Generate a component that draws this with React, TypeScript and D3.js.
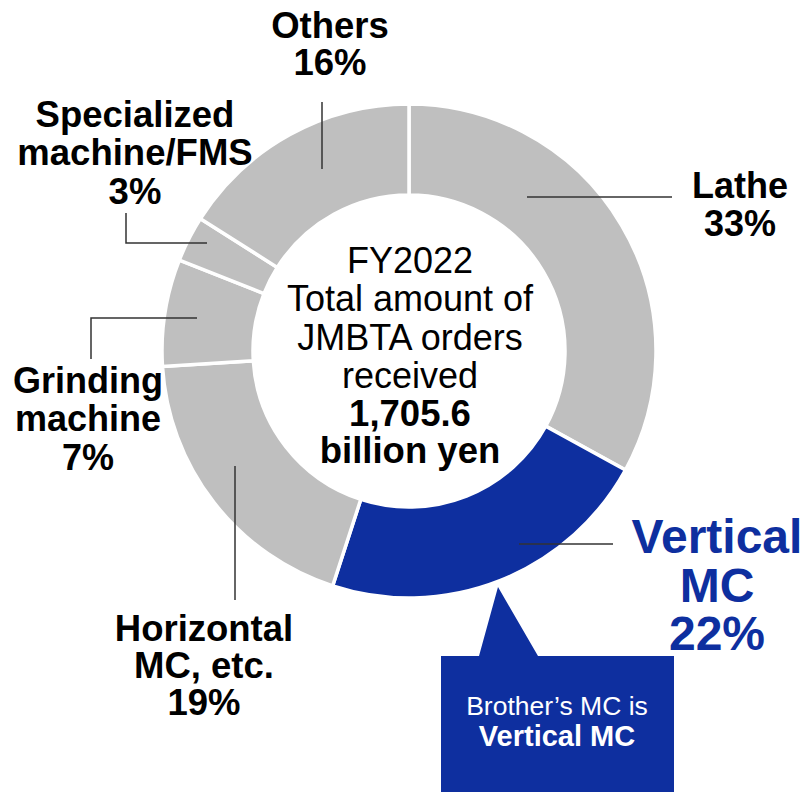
import React, { useEffect } from "react";
import * as d3 from "d3";

const categories = ["Lathe", "Vertical MC", "Horizontal MC, etc.", "Grinding machine", "Specialized machine/FMS", "Others"];
const shares = [33, 22, 19, 7, 3, 16];
const highlight = ["Vertical MC"];

const labelLines: string[][] = [
  ["Lathe", "33%"],
  ["Vertical", "MC", "22%"],
  ["Horizontal", "MC, etc.", "19%"],
  ["Grinding", "machine", "7%"],
  ["Specialized", "machine/FMS", "3%"],
  ["Others", "16%"],
];

const centerLines = ["FY2022", "Total amount of", "JMBTA orders", "received"];
const centerBold = ["1,705.6", "billion yen"];
const calloutLines = ["Brother\u2019s MC is", "Vertical MC"];

// layout (annotation positions)
const labelPos = [
  { x: 740, y: 198, lh: 38, size: 36 },
  { x: 717, y: 553, lh: 48.5, size: 48 },
  { x: 204, y: 641, lh: 37, size: 36.5 },
  { x: 88, y: 393, lh: 38.3, size: 36 },
  { x: 135, y: 126.5, lh: 38.7, size: 36.5 },
  { x: 330, y: 37.5, lh: 37.5, size: 36.5 },
];
const leaders: [number, number][][] = [
  [[527, 197], [672, 197]],
  [[519, 544], [613, 544]],
  [[235, 466], [235, 600]],
  [[91, 359], [91, 318], [197, 318]],
  [[126, 213], [126, 243], [207, 243]],
  [[322, 102], [322, 169]],
];

const GREY = "#bfbfbf";
const BLUE = "#0e2f9f";
const FONT = "'Liberation Sans', Arial, Helvetica, sans-serif";

export default function App() {
  useEffect(() => {
    document.body.style.margin = "0";
  }, []);
  const W = 805, H = 792;
  const cx = 409, cy = 351, rOut = 247, rIn = 156;
  const pie = d3.pie<number>().sort(null).value((d) => d).startAngle(0).endAngle(2 * Math.PI);
  const arcs = pie(shares);
  const arc = d3.arc<d3.PieArcDatum<number>>().innerRadius(rIn).outerRadius(rOut);
  const line = d3.line();

  return (
    <svg width={W} height={H} style={{ display: "block" }} fontFamily={FONT}>
      <rect width={W} height={H} fill="#fff" />
      <g transform={`translate(${cx},${cy})`}>
        {arcs.map((a, i) => (
          <path
            key={i}
            d={arc(a) || ""}
            fill={highlight.includes(categories[i]) ? BLUE : GREY}
            stroke="#fff"
            strokeWidth={3.5}
            strokeLinejoin="miter"
          />
        ))}
      </g>
      {leaders.map((pts, i) => (
        <path key={i} d={line(pts) || ""} fill="none" stroke="#333" strokeWidth={1.5} />
      ))}
      {labelLines.map((lines, i) => {
        const p = labelPos[i];
        const isHi = highlight.includes(categories[i]);
        return (
          <text
            key={i}
            x={p.x}
            y={p.y}
            textAnchor="middle"
            fontWeight="bold"
            fontSize={p.size}
            fill={isHi ? BLUE : "#000"}
          >
            {lines.map((l, j) => (
              <tspan key={j} x={p.x} y={p.y + j * p.lh}>
                {l}
              </tspan>
            ))}
          </text>
        );
      })}
      <text textAnchor="middle" fontSize={36} fill="#000">
        {centerLines.map((l, j) => (
          <tspan key={j} x={410} y={273 + j * 38.3}>
            {l}
          </tspan>
        ))}
      </text>
      <text textAnchor="middle" fontSize={36.5} fontWeight="bold" fill="#000">
        {centerBold.map((l, j) => (
          <tspan key={j} x={410} y={425.5 + j * 37}>
            {l}
          </tspan>
        ))}
      </text>
      <path
        d={line([
          [441, 656],
          [479, 656],
          [498, 587],
          [538, 656],
          [674, 656],
          [674, 800],
          [441, 800],
        ]) + "Z"}
        fill={BLUE}
      />
      <text x={557} y={715} textAnchor="middle" fontSize={26.5} fill="#fff">
        {calloutLines[0]}
      </text>
      <text x={557} y={746} textAnchor="middle" fontSize={29} fontWeight="bold" fill="#fff">
        {calloutLines[1]}
      </text>
    </svg>
  );
}
